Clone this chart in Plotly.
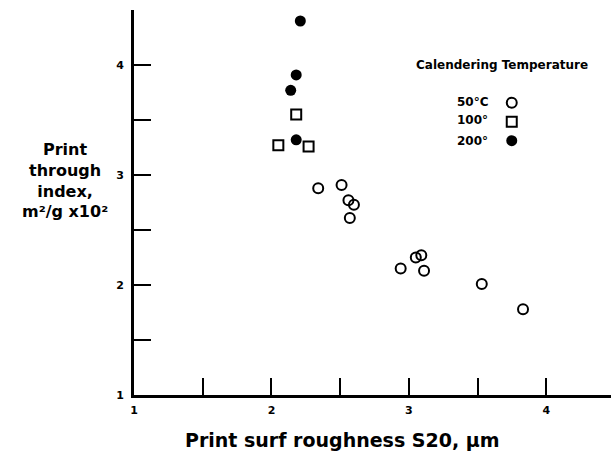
import plotly.graph_objects as go

# Data
x_50 = [2.34, 2.51, 2.56, 2.60, 2.57, 3.05, 3.09, 2.94, 3.11, 3.53, 3.83]
y_50 = [2.88, 2.91, 2.77, 2.73, 2.61, 2.25, 2.27, 2.15, 2.13, 2.01, 1.78]
x_100 = [2.18, 2.05, 2.27]
y_100 = [3.55, 3.27, 3.26]
x_200 = [2.21, 2.18, 2.14, 2.18]
y_200 = [4.40, 3.91, 3.77, 3.32]

series_names = ["50°C", "100°", "200°"]
x_ticks = [1, 1.5, 2, 2.5, 3, 3.5, 4]
x_tick_text = ["1", "", "2", "", "3", "", "4"]
y_ticks = [1, 1.5, 2, 2.5, 3, 3.5, 4, 4.5]
y_tick_text = ["1", "", "2", "", "3", "", "4", ""]

FONT = "DejaVu Sans, Arial Black, sans-serif"

fig = go.Figure()
fig.add_trace(go.Scatter(x=x_50, y=y_50, mode="markers", name=series_names[0],
                         marker=dict(symbol="circle-open", size=10, color="black",
                                     line=dict(width=2, color="black"))))
fig.add_trace(go.Scatter(x=x_100, y=y_100, mode="markers", name=series_names[1],
                         marker=dict(symbol="square-open", size=10, color="black",
                                     line=dict(width=2, color="black"))))
fig.add_trace(go.Scatter(x=x_200, y=y_200, mode="markers", name=series_names[2],
                         marker=dict(symbol="circle", size=11, color="black")))

axis_common = dict(showgrid=False, zeroline=False, showline=True, linecolor="black",
                   linewidth=3, ticks="inside", ticklen=17, tickwidth=2, tickcolor="black",
                   tickfont=dict(family=FONT, size=11, color="black", weight="bold"))

fig.update_xaxes(range=[1, 4.47], tickmode="array", tickvals=x_ticks, ticktext=x_tick_text,
                 ticklabelstandoff=3, **axis_common)
fig.update_yaxes(range=[1, 4.5], tickmode="array", tickvals=y_ticks, ticktext=y_tick_text,
                 ticklabelstandoff=5, **axis_common)

annotations = [
    dict(text="Print<br>through<br>index,<br>m²/g x10²", x=-0.145, y=0.556,
         xref="paper", yref="paper", xanchor="center", yanchor="middle",
         showarrow=False, align="center",
         font=dict(family=FONT, size=16, color="black", weight="bold")),
    dict(text="Print surf roughness S20, μm", x=0.437, y=-0.1175,
         xref="paper", yref="paper", xanchor="center", yanchor="middle", showarrow=False,
         font=dict(family=FONT, size=19, color="black", weight="bold")),
    dict(text="Calendering Temperature", x=0.7725, y=0.857,
         xref="paper", yref="paper", xanchor="center", yanchor="middle", showarrow=False,
         font=dict(family=FONT, size=12, color="black", weight="bold")),
]
label_y = [0.760, 0.713, 0.661]
for name, yy in zip(series_names, label_y):
    annotations.append(dict(text=name, x=0.673, y=yy, xref="paper", yref="paper",
                            xanchor="left", yanchor="middle", showarrow=False,
                            font=dict(family=FONT, size=12, color="black", weight="bold")))

fig.update_layout(
    width=611, height=455,
    margin=dict(l=134, r=0, t=10, b=60),
    paper_bgcolor="white", plot_bgcolor="white",
    showlegend=True,
    legend=dict(x=0.75, y=0.797, xanchor="left", yanchor="top",
                bgcolor="rgba(0,0,0,0)", font=dict(size=12, color="rgba(0,0,0,0)"),
                tracegroupgap=0),
    annotations=annotations,
)

fig.write_html("out.html")
